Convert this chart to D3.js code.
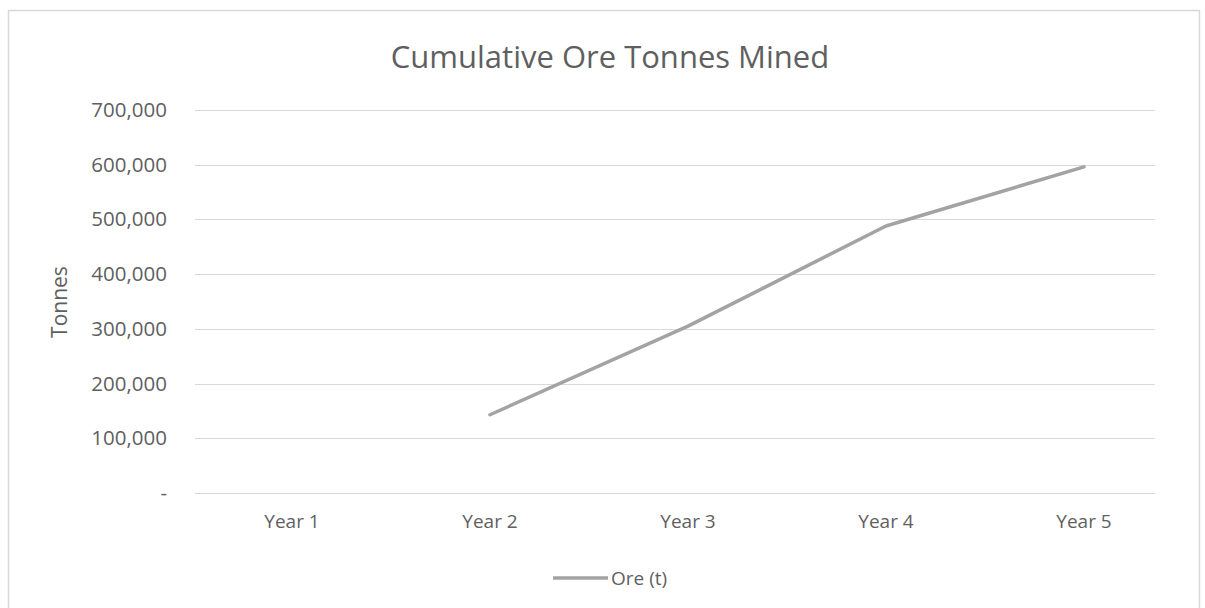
<!DOCTYPE html>
<html>
<head>
<meta charset="utf-8">
<script src="https://cdn.jsdelivr.net/npm/d3@7"></script>
<style>
  html, body { margin: 0; padding: 0; background: #ffffff; }
  svg { display: block; }
  text { font-family: "Open Sans", "Noto Sans", sans-serif; fill: #5f5f5f; }
</style>
</head>
<body>
<svg id="chart" width="1205" height="608"></svg>
<script>
// Chart data
const years = ["Year 1", "Year 2", "Year 3", "Year 4", "Year 5"];
const oreTonnes = [null, 143000, 305000, 488000, 596000];
const yTicks = [0, 100000, 200000, 300000, 400000, 500000, 600000, 700000];
const chartTitle = "Cumulative Ore Tonnes Mined";
const yAxisTitle = "Tonnes";
const seriesName = "Ore (t)";

const svg = d3.select("#chart");

// Chart area frame
svg.append("rect")
  .attr("x", 8.5).attr("y", 10.5)
  .attr("width", 1191).attr("height", 610)
  .attr("fill", "#ffffff")
  .attr("stroke", "#d9d9d9")
  .attr("stroke-width", 1.5);

const plot = { left: 195, right: 1155, top: 110, bottom: 493 };

const x = d3.scaleBand().domain(years).range([193, 1183]).padding(0);
const y = d3.scaleLinear().domain([0, 700000]).range([plot.bottom, plot.top]);

// Horizontal gridlines
svg.append("g")
  .selectAll("line")
  .data(yTicks)
  .join("line")
  .attr("x1", plot.left).attr("x2", plot.right)
  .attr("y1", d => Math.round(y(d)) + 0.5)
  .attr("y2", d => Math.round(y(d)) + 0.5)
  .attr("stroke", "#d9d9d9")
  .attr("stroke-width", 1);

// Y axis labels
const fmt = d3.format(",");
const yAxis = d3.axisLeft(y)
  .tickValues(yTicks)
  .tickSize(0)
  .tickPadding(0)
  .tickFormat(d => d === 0 ? "-" : fmt(d));
const gy = svg.append("g")
  .attr("transform", "translate(167,0)")
  .call(yAxis);
gy.select(".domain").remove();
gy.selectAll("text")
  .attr("font-size", 20.5)
  .attr("font-family", "Open Sans")
  .attr("fill", "#5f5f5f");

// X axis labels
const xAxis = d3.axisBottom(x).tickSize(0).tickPadding(0);
const gx = svg.append("g")
  .attr("transform", "translate(0,514)")
  .call(xAxis);
gx.select(".domain").remove();
gx.selectAll("text")
  .attr("font-size", 19)
  .attr("font-family", "Open Sans")
  .attr("fill", "#5f5f5f");

// Series line
const line = d3.line()
  .defined(d => d.v != null)
  .x(d => x(d.year) + x.bandwidth() / 2)
  .y(d => y(d.v));

svg.append("path")
  .datum(years.map((yr, i) => ({ year: yr, v: oreTonnes[i] })))
  .attr("d", line)
  .attr("fill", "none")
  .attr("stroke", "#a3a3a3")
  .attr("stroke-width", 3.5)
  .attr("stroke-linejoin", "round")
  .attr("stroke-linecap", "round");

// Title
svg.append("text")
  .attr("x", 610).attr("y", 68)
  .attr("text-anchor", "middle")
  .attr("font-size", 31)
  .text(chartTitle);

// Y axis title
svg.append("text")
  .attr("transform", "translate(67,302) rotate(-90)")
  .attr("text-anchor", "middle")
  .attr("font-size", 21)
  .text(yAxisTitle);

// Legend
const legend = svg.append("g").attr("transform", "translate(553,578)");
legend.append("line")
  .attr("x1", 0).attr("x2", 55)
  .attr("y1", 0).attr("y2", 0)
  .attr("stroke", "#a3a3a3")
  .attr("stroke-width", 3.5);
legend.append("text")
  .attr("x", 58).attr("y", 0)
  .attr("dy", "0.35em")
  .attr("font-size", 19)
  .text(seriesName);
</script>
</body>
</html>
